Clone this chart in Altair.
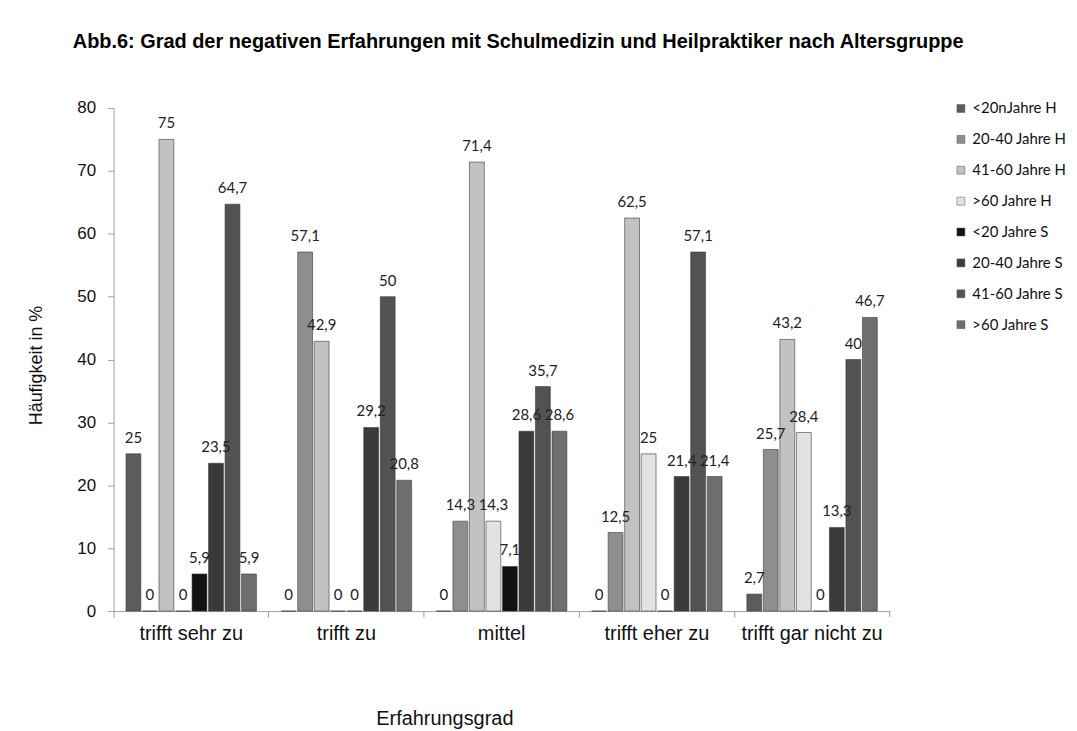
import altair as alt
import pandas as pd

categories = ["trifft sehr zu", "trifft zu", "mittel", "trifft eher zu", "trifft gar nicht zu"]
series = ["<20nJahre H", "20-40 Jahre H", "41-60 Jahre H", ">60 Jahre H",
          "<20 Jahre S", "20-40 Jahre S", " 41-60 Jahre S", ">60 Jahre S"]
colors = ["#5c5c5c", "#8e8e8e", "#c2c2c2", "#e2e2e2",
          "#111111", "#3a3a3a", "#525252", "#6e6e6e"]

values = {
    "<20nJahre H":    [25, 0, 0, 0, 2.7],
    "20-40 Jahre H":  [0, 57.1, 14.3, 12.5, 25.7],
    "41-60 Jahre H":  [75, 42.9, 71.4, 62.5, 43.2],
    ">60 Jahre H":    [0, 0, 14.3, 25, 28.4],
    "<20 Jahre S":    [5.9, 0, 7.1, 0, 0],
    "20-40 Jahre S":  [23.5, 29.2, 28.6, 21.4, 13.3],
    " 41-60 Jahre S": [64.7, 50, 35.7, 57.1, 40],
    ">60 Jahre S":    [5.9, 20.8, 28.6, 21.4, 46.7],
}

rows = []
for s in series:
    for c, v in zip(categories, values[s]):
        lab = ("%g" % v).replace(".", ",")
        rows.append({"Kategorie": c, "Serie": s, "Wert": v, "Label": lab})
df = pd.DataFrame(rows)

W, H = 779, 505

x = alt.X("Kategorie:N", sort=categories,
          scale=alt.Scale(paddingInner=0, paddingOuter=0),
          axis=alt.Axis(title="Erfahrungsgrad", labelAngle=0, labelFontSize=20,
                        labelFont="Liberation Sans", labelColor="#111111",
                        labelPadding=7, tickSize=6, bandPosition=0,
                        domainColor="#a0a0a0", tickColor="#a0a0a0",
                        titleFont="Liberation Sans", titleFontSize=20,
                        titleFontWeight="normal", titleColor="#111111",
                        titleX=332, titleY=114, titleBaseline="alphabetic",
                        titleAnchor="middle"))
xo = alt.XOffset("Serie:N", sort=series,
                 scale=alt.Scale(paddingInner=0.1, paddingOuter=0.75))
y = alt.Y("Wert:Q",
          scale=alt.Scale(domain=[0, 80], nice=False),
          axis=alt.Axis(title="Häufigkeit in %", values=list(range(0, 81, 10)),
                        grid=False, labelFontSize=17, labelFont="Liberation Sans",
                        labelColor="#111111", tickSize=6, labelPadding=12,
                        domainColor="#a0a0a0", tickColor="#a0a0a0",
                        titleFont="Liberation Sans", titleFontSize=18,
                        titleFontWeight="normal", titleColor="#111111",
                        titleX=-77, titleY=258, titleAngle=-90,
                        titleBaseline="middle", titleAnchor="middle"))

bars = alt.Chart(df).mark_bar(stroke="#3a3a3a", strokeWidth=1, strokeOpacity=0.6).encode(
    x=x, xOffset=xo, y=y,
    color=alt.Color("Serie:N", sort=series,
                    scale=alt.Scale(domain=series, range=colors),
                    legend=alt.Legend(title=None, orient="none", legendX=843, legendY=-7,
                                      symbolType="square", symbolSize=64,
                                      symbolStrokeColor="#555555", symbolStrokeWidth=0.5,
                                      labelFont="Lato", labelFontSize=15,
                                      labelColor="#111111", rowPadding=15,
                                      labelOffset=4)),
)

labels = alt.Chart(df).mark_text(baseline="bottom", dy=-8, font="Lato",
                                 fontSize=15, color="#222222").encode(
    x=alt.X("Kategorie:N", sort=categories), xOffset=alt.XOffset("Serie:N", sort=series),
    y=alt.Y("Wert:Q"), text="Label:N")

end_tick = alt.Chart(pd.DataFrame({"a": [0]})).mark_rule(color="#a0a0a0").encode(
    x=alt.value(W), y=alt.value(H), y2=alt.value(H + 6))

chart = alt.layer(bars, labels, end_tick).properties(
    width=W, height=H,
    title=alt.TitleParams("Abb.6: Grad der negativen Erfahrungen mit  Schulmedizin und Heilpraktiker nach Altersgruppe",
                          anchor="start", frame="group", dx=-41, offset=31,
                          baseline="alphabetic", font="Liberation Sans",
                          fontSize=20, fontWeight="bold", color="#000000"),
    autosize=alt.AutoSizeParams(type="none"),
    padding={"left": 106, "top": 99, "right": 180, "bottom": 118},
).configure_view(stroke=None)

chart.save("out.html", embed_options={"renderer": "svg", "actions": False})
